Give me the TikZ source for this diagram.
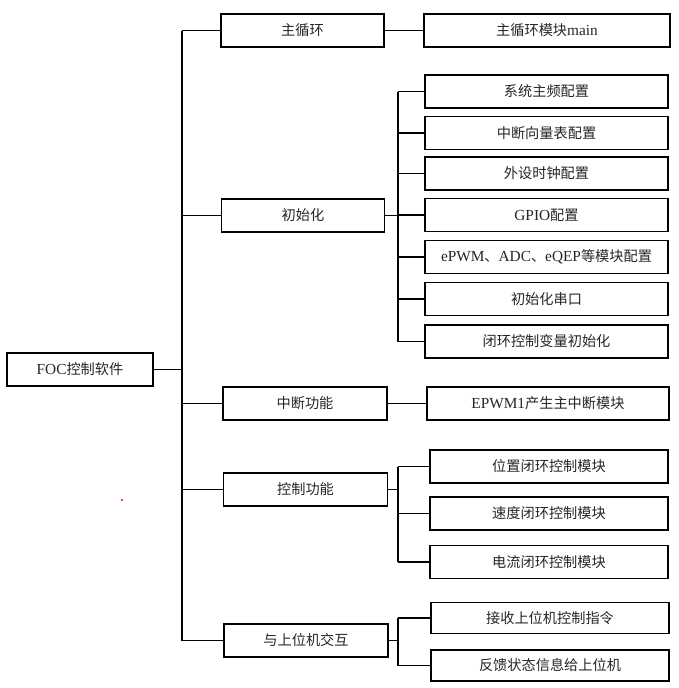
\documentclass[tikz,border=0pt]{standalone}
\usepackage{fontspec}
\setmainfont[Scale=1.08]{Liberation Serif}
\newfontfamily\cjk{Noto Sans CJK SC}
\begin{document}
\begin{tikzpicture}[x=1pt,y=-1pt,
  box/.style={draw=black,line width=1.6pt,fill=white,minimum height=33pt,inner sep=0pt,
    font=\fontsize{14.2}{16}\selectfont,text=black!85},
  lone/.style={box,minimum width=146pt},
  lvone/.style={box,minimum width=163pt},
  lvtwo/.style={box,minimum width=243pt},
  conn/.style={draw=black,line width=1.6pt}]
\useasboundingbox (0,0) rectangle (679,688);
\fill[white] (0,0) rectangle (679,688);

\coordinate (tx) at (182,0);
\coordinate (sx) at (398,0);

% root
\node[lone] (root) at (80,369.5) {FOC{\cjk 控制软件}};

% level 1
\node[lvone] (l1) at (302.5,30.5) {\cjk 主循环};
\node[lvone] (l2) at (303,215.5) {\cjk 初始化};
\node[lvone,minimum width=164pt] (l3) at (305,403.5) {\cjk 中断功能};
\node[lvone,minimum width=164pt] (l4) at (305.5,489.5) {\cjk 控制功能};
\node[lvone,minimum width=164pt] (l5) at (306,640.5) {\cjk 与上位机交互};

% level 2
\node[lvtwo,minimum width=246pt] (m1) at (547,30.5) {{\cjk 主循环模块}main};
\node[lvtwo] (i1) at (546.5,91.5) {\cjk 系统主频配置};
\node[lvtwo] (i2) at (546.5,133) {\cjk 中断向量表配置};
\node[lvtwo] (i3) at (546.5,173.5) {\cjk 外设时钟配置};
\node[lvtwo] (i4) at (546.5,215) {GPIO{\cjk 配置}};
\node[lvtwo] (i5) at (546.5,257) {ePWM{\cjk 、}ADC{\cjk 、}eQEP{\cjk 等模块配置}};
\node[lvtwo] (i6) at (546.5,299) {\cjk 初始化串口};
\node[lvtwo] (i7) at (546.5,341.5) {\cjk 闭环控制变量初始化};
\node[lvtwo,minimum width=242pt] (n1) at (548,403.5) {EPWM1{\cjk 产生主中断模块}};
\node[lvtwo,minimum width=238pt] (c1) at (549,466.5) {\cjk 位置闭环控制模块};
\node[lvtwo,minimum width=238pt] (c2) at (549,513.5) {\cjk 速度闭环控制模块};
\node[lvtwo,minimum width=238pt] (c3) at (549,562) {\cjk 电流闭环控制模块};
\node[lvtwo,minimum width=238pt,minimum height=31pt] (h1) at (550,618) {\cjk 接收上位机控制指令};
\node[lvtwo,minimum width=238pt,minimum height=31pt] (h2) at (550,665.5) {\cjk 反馈状态信息给上位机};

% trunk
\draw[conn] (root.east) -- (root.east -| tx);
\draw[conn] (l1.west -| tx) -- (l5.west -| tx);
\foreach \n in {l1,l2,l3,l4,l5} \draw[conn] (\n.west -| tx) -- (\n.west);

% direct links
\draw[conn] (l1.east) -- (m1.west);
\draw[conn] (l3.east) -- (n1.west);

% init group
\draw[conn] (l2.east) -- (l2.east -| sx);
\draw[conn] (i1.west -| sx) -- (i7.west -| sx);
\foreach \n in {i1,i2,i3,i4,i5,i6,i7} \draw[conn] (\n.west -| sx) -- (\n.west);

% control group
\draw[conn] (l4.east) -- (l4.east -| sx);
\draw[conn] (c1.west -| sx) -- (c3.west -| sx);
\foreach \n in {c1,c2,c3} \draw[conn] (\n.west -| sx) -- (\n.west);

% host group
\draw[conn] (l5.east) -- (l5.east -| sx);
\draw[conn] (h1.west -| sx) -- (h2.west -| sx);
\foreach \n in {h1,h2} \draw[conn] (\n.west -| sx) -- (\n.west);

% stray red dot
\fill[red] (122,500) circle (1.2pt);
\end{tikzpicture}
\end{document}
